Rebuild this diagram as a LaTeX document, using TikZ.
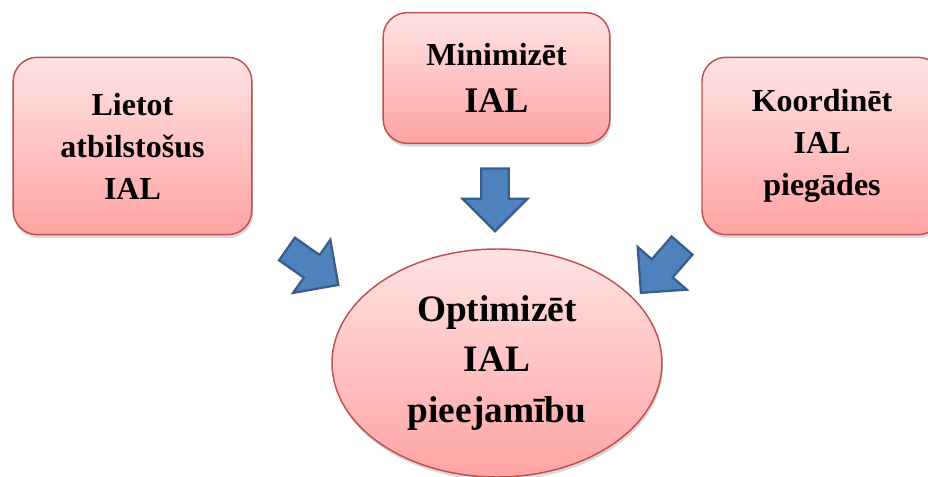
\documentclass[tikz,border=0pt]{standalone}
\usepackage{fontspec}
\setmainfont{Liberation Serif}
\usetikzlibrary{shapes.geometric,shapes.arrows,shadows}
\definecolor{boxtop}{HTML}{FFE3E3}
\definecolor{boxbot}{HTML}{FFA3A3}
\definecolor{boxline}{HTML}{C0504D}
\definecolor{arrfill}{HTML}{4F81BD}
\definecolor{arrline}{HTML}{385D8A}
\tikzset{
  softshadow/.style={drop shadow={shadow xshift=0.8pt,shadow yshift=-2.5pt,opacity=.3}},
  taskbox/.style={draw=boxline, line width=1.1pt, rounded corners=18pt,
    top color=boxtop, bottom color=boxbot, align=center, softshadow,
    font=\bfseries\fontsize{24}{31.5}\selectfont},
  goal/.style={ellipse, draw=boxline, line width=1.1pt, top color=boxtop,
    bottom color=boxbot, align=center, softshadow, inner sep=0pt,
    minimum width=247.5pt, minimum height=171pt,
    font=\bfseries\fontsize{28}{38}\selectfont},
  bluearrow/.style={single arrow, draw=arrline, fill=arrfill, line width=1.7pt,
    inner xsep=0pt, inner ysep=9.5pt, single arrow head extend=14pt,
    minimum width=0pt, minimum height=47pt}
}
\begin{document}
\begin{tikzpicture}[x=0.75pt,y=-0.75pt]
\clip (0,0) rectangle (928,477);
\node[taskbox, minimum width=179pt, minimum height=133pt] (use) at (132.5,146) {Lietot\\atbilstošus\\IAL};
\node[taskbox, minimum width=170pt, minimum height=98pt,
  font=\bfseries\fontsize{24}{35}\selectfont] (min) at (496.5,78) {Minimizēt\\{\fontsize{27}{35}\selectfont IAL}};
\node[taskbox, minimum width=180pt, minimum height=133pt] (coord) at (822,146) {Koordinēt\\IAL\\piegādes};
\node[goal] (opt) at (497,363) {Optimizēt\\IAL\\pieejamību};

% block arrows towards the goal
\foreach \n/\x/\y/\a in {l/307/263/-35, m/495/193/-90, r/666/264/-131}
{
    \node[bluearrow, rotate=\a] (arr\n) at (\x,\y) {};
}
\end{tikzpicture}
\end{document}
